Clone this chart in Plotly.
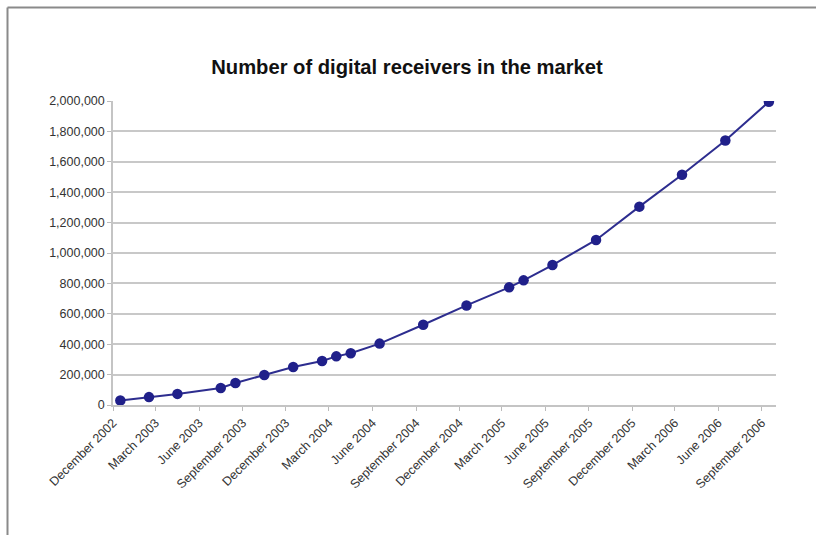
import plotly.graph_objects as go

# Data (month of each observation, receivers in market)
months = ["2002-12", "2003-02", "2003-04", "2003-07", "2003-08", "2003-10", "2003-12",
          "2004-02", "2004-03", "2004-04", "2004-06", "2004-09", "2004-12",
          "2005-03", "2005-04", "2005-06", "2005-09", "2005-12",
          "2006-03", "2006-06", "2006-09"]
receivers = [30000, 52000, 73000, 112000, 145000, 197000, 250000,
             289000, 320000, 340000, 404000, 528000, 655000,
             774000, 820000, 921000, 1086000, 1305000,
             1515000, 1740000, 1995000]
tick_dates = ["2002-12-01", "2003-03-01", "2003-06-01", "2003-09-01", "2003-12-01",
              "2004-03-01", "2004-06-01", "2004-09-01", "2004-12-01",
              "2005-03-01", "2005-06-01", "2005-09-01", "2005-12-01",
              "2006-03-01", "2006-06-01", "2006-09-01"]
tick_labels = ["December 2002", "March 2003", "June 2003", "September 2003", "December 2003",
               "March 2004", "June 2004", "September 2004", "December 2004",
               "March 2005", "June 2005", "September 2005", "December 2005",
               "March 2006", "June 2006", "September 2006"]
title = "Number of digital receivers in the market"

W, H = 816, 535
ML, MR, MT, MB = 113, 40, 101, 130
pw, ph = W - ML - MR, H - MT - MB

fig = go.Figure(go.Scatter(
    x=[m + "-01" for m in months], y=receivers,
    xperiod="M1", xperiodalignment="middle",
    mode="lines+markers",
    line=dict(color="#2d2d8f", width=2),
    marker=dict(color="#20208a", size=10.5),
    hoverinfo="x+y",
))

# frame lines (top and left of the picture)
fx = (7.5 - ML) / pw
fy = 1 + (MT - 7.5) / ph
fig.add_shape(type="line", xref="paper", yref="paper", x0=fx, x1=(W - ML) / pw, y0=fy, y1=fy,
              line=dict(color="#8a8a8a", width=2))
fig.add_shape(type="line", xref="paper", yref="paper", x0=fx, x1=fx, y0=fy, y1=-MB / ph,
              line=dict(color="#8a8a8a", width=2))

fig.update_layout(
    width=W, height=H,
    margin=dict(l=ML, r=MR, t=MT, b=MB),
    paper_bgcolor="white", plot_bgcolor="white",
    showlegend=False,
    title=dict(text="<b>" + title + "</b>", x=407 / W, xref="container", xanchor="center",
               y=1 - 67 / H, yref="container", yanchor="middle",
               font=dict(family="Liberation Sans, Arial, sans-serif", size=20.2, color="#111111")),
    font=dict(family="Liberation Sans, Arial, sans-serif", size=11, color="#333333"),
)
fig.update_xaxes(
    type="date", range=["2002-12-01", "2006-10-01"],
    tickmode="array", tickvals=tick_dates, ticktext=tick_labels, tickangle=-45,
    ticks="outside", ticklen=4, tickcolor="#bbbbbb",
    showline=True, linecolor="#c4c4c4", linewidth=1.5,
    showgrid=False, zeroline=False,
    tickfont=dict(size=12.5, color="#333333"),
)
fig.update_yaxes(
    range=[0, 2000000], dtick=200000, tickformat=",d",
    ticks="outside", ticklen=4, tickcolor="#bbbbbb",
    showline=True, linecolor="#c4c4c4", linewidth=1.5,
    showgrid=True, gridcolor="#c8c8c8", gridwidth=1.5,
    zeroline=False,
    tickfont=dict(size=12.5, color="#333333"),
)

fig.write_html("out.html", config={"displayModeBar": False},
               post_script="document.body.style.margin='0';document.body.style.overflow='hidden';")
